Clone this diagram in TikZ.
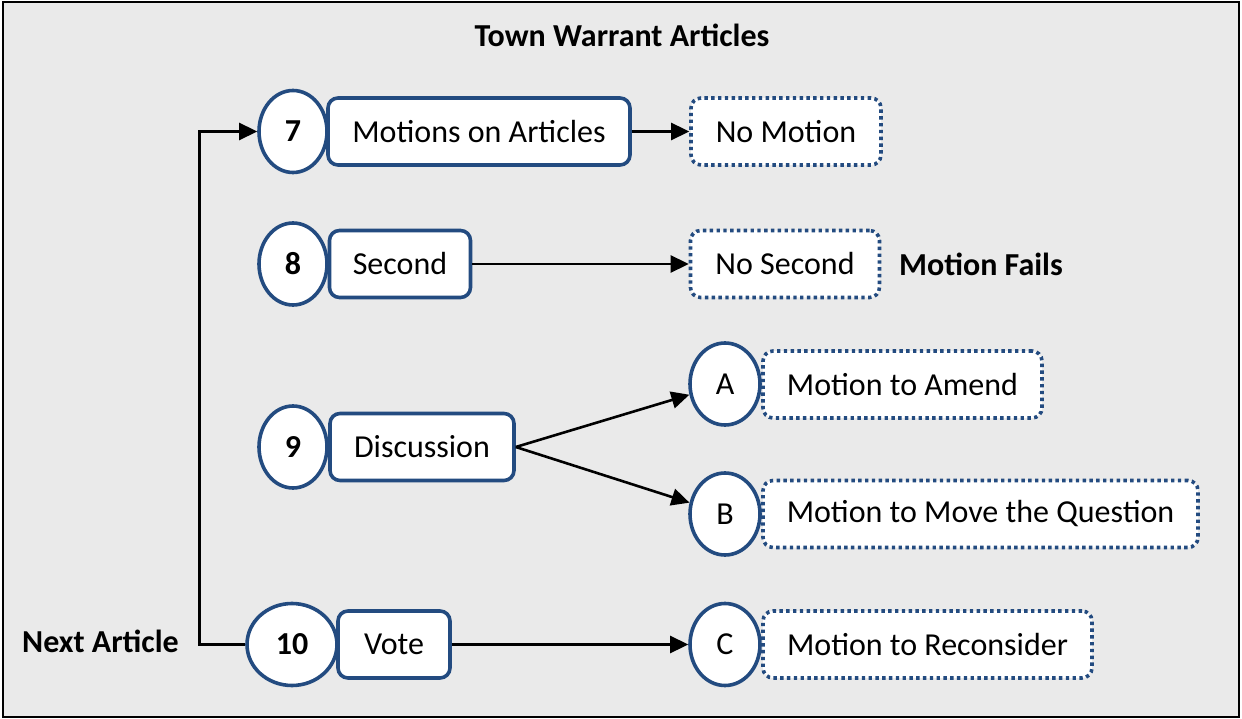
\documentclass[tikz,border=0pt]{standalone}
\usepackage{fontspec}
\setmainfont{Carlito}
\usetikzlibrary{shapes.geometric,arrows.meta}
\definecolor{navy}{RGB}{35,75,128}
\definecolor{panel}{RGB}{234,234,234}
\tikzset{
  every node/.style={font=\fontsize{32}{38}\selectfont, inner sep=0pt},
  numcirc/.style={ellipse, draw=navy, line width=3.6pt, fill=white,
    minimum width=68pt, minimum height=82pt},
  stepbox/.style={rectangle, rounded corners=10pt, draw=navy, line width=3.6pt,
    fill=white, minimum height=67pt},
  altbox/.style={rectangle, rounded corners=10pt, draw=navy, line width=3.6pt,
    fill=white, minimum height=67pt, dash pattern=on 3.4pt off 3.4pt},
  conn/.style={draw=black, line width=2.6pt,
    -{Triangle[length=18pt,width=17pt]}},
  lbl/.style={font=\fontsize{32}{38}\selectfont\bfseries}
}
\begin{document}
\begin{tikzpicture}[x=1pt,y=-1pt]
  \useasboundingbox (0,0) rectangle (1242,719);
  \draw[fill=panel, draw=black, line width=2pt] (3,2) rectangle (1239,717);

  \node[lbl] (title) at (622,35) {Town Warrant Articles};

  % main steps
  \node[numcirc] (c7) at (293,131.5) {\bfseries 7};
  \node[stepbox, minimum width=302pt] (motions) at (479,131.5) {Motions on Articles};
  \node[numcirc] (c8) at (293,264) {\bfseries 8};
  \node[stepbox, minimum width=141pt] (second) at (400,264) {Second};
  \node[numcirc] (c9) at (293,447) {\bfseries 9};
  \node[stepbox, minimum width=184pt] (disc) at (422,447) {Discussion};
  \node[numcirc, minimum width=90pt] (c10) at (292,644.5) {\bfseries 10};
  \node[stepbox, minimum width=112pt] (vote) at (394,644.5) {Vote};

  % outcomes
  \node[altbox, minimum width=190pt] (nomotion) at (786,131.5) {No Motion};
  \node[altbox, minimum width=189pt] (nosecond) at (785,264) {No Second};
  \node[lbl] (fails) at (981,264) {Motion Fails};

  \node[numcirc, minimum width=70pt] (cA) at (725,384) {A};
  \node[altbox, minimum width=279pt] (amend) at (902.5,384.5) {Motion to Amend};
  \node[numcirc, minimum width=70pt] (cB) at (725,514) {B};
  \node[altbox, minimum width=435pt] (moveq) at (980.5,514) {Motion to Move the Question};
  \node[numcirc, minimum width=70pt] (cC) at (725,644.5) {C};
  \node[altbox, minimum width=329pt] (recon) at (927.5,644.5) {Motion to Reconsider};

  \node[lbl] (next) at (100.5,641) {Next Article};

  % connectors
  \draw[conn] (motions.east) -- (nomotion.west);
  \draw[conn] (second.east) -- (nosecond.west);
  \draw[conn] (disc.east) -- (cA);
  \draw[conn] (disc.east) -- (cB);
  \draw[conn] (vote.east) -- (cC.west);
  \draw[conn] (c10.west) -- ++(-46,0) |- (c7.west);
\end{tikzpicture}
\end{document}
